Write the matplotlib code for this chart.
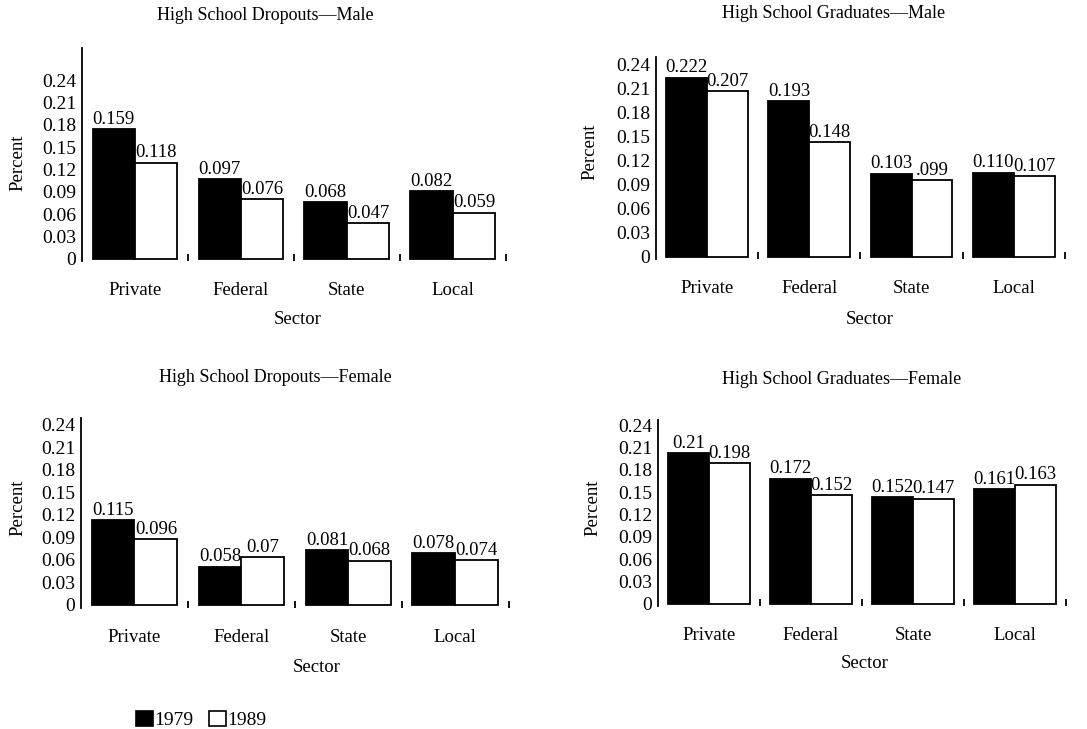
import numpy as np
import matplotlib
matplotlib.use('Agg')
import matplotlib.pyplot as plt
from matplotlib.patches import Patch

plt.rcParams['font.family'] = 'Liberation Serif'

W, H = 1087, 729

sectors = ['Private', 'Federal', 'State', 'Local']
years = ['1979', '1989']
y_ticks = [0, 0.03, 0.06, 0.09, 0.12, 0.15, 0.18, 0.21, 0.24]
y_tick_labels = ['0', '0.03', '0.06', '0.09', '0.12', '0.15', '0.18', '0.21', '0.24']

titles = ['High School Dropouts\u2014Male', 'High School Graduates\u2014Male',
          'High School Dropouts\u2014Female', 'High School Graduates\u2014Female']

# bar heights as printed (the bars do not sit exactly at their labels)
drop_m_79 = [0.174, 0.107, 0.076, 0.091]
drop_m_89 = [0.129, 0.080, 0.048, 0.062]
grad_m_79 = [0.224, 0.195, 0.104, 0.105]
grad_m_89 = [0.207, 0.143, 0.096, 0.101]
drop_f_79 = [0.113, 0.051, 0.073, 0.069]
drop_f_89 = [0.088, 0.064, 0.059, 0.060]
grad_f_79 = [0.202, 0.168, 0.143, 0.154]
grad_f_89 = [0.189, 0.146, 0.141, 0.160]

# value labels printed over the bars
drop_m_79_lbl = ['0.159', '0.097', '0.068', '0.082']
drop_m_89_lbl = ['0.118', '0.076', '0.047', '0.059']
grad_m_79_lbl = ['0.222', '0.193', '0.103', '0.110']
grad_m_89_lbl = ['0.207', '0.148', '.099', '0.107']
drop_f_79_lbl = ['0.115', '0.058', '0.081', '0.078']
drop_f_89_lbl = ['0.096', '0.07', '0.068', '0.074']
grad_f_79_lbl = ['0.21', '0.172', '0.152', '0.161']
grad_f_89_lbl = ['0.198', '0.152', '0.147', '0.163']

series = [(drop_m_79, drop_m_89, drop_m_79_lbl, drop_m_89_lbl),
          (grad_m_79, grad_m_89, grad_m_79_lbl, grad_m_89_lbl),
          (drop_f_79, drop_f_89, drop_f_79_lbl, drop_f_89_lbl),
          (grad_f_79, grad_f_89, grad_f_79_lbl, grad_f_89_lbl)]

# layout in pixels: axes (left, right, top, bottom), ylim, title, ylabel, xlabel centres
layout = [
    dict(box=(82, 511, 48, 261), ylim=(-0.003, 0.283), title=(265, 15), ylab=(18, 163), xlab=(298, 320)),
    dict(box=(656, 1070, 57, 259), ylim=(-0.003, 0.25), title=(834, 14), ylab=(590, 152), xlab=(870, 319)),
    dict(box=(81, 514, 418, 608), ylim=(-0.004, 0.249), title=(275, 378), ylab=(18, 508), xlab=(317, 668)),
    dict(box=(658, 1071, 420, 606), ylim=(-0.003, 0.247), title=(842, 379), ylab=(593, 508), xlab=(865, 664)),
]

fig = plt.figure(figsize=(W / 100, H / 100), dpi=100)

x = np.arange(len(sectors))
bw = 0.4

for i in range(4):
    lo = layout[i]
    l, r, t, b = lo['box']
    ax = fig.add_axes([l / W, 1 - b / H, (r - l) / W, (b - t) / H])
    v79, v89, l79, l89 = series[i]

    ax.bar(x + 0.1, v79, bw, align='edge', color='black', edgecolor='black', linewidth=1.3)
    ax.bar(x + 0.5, v89, bw, align='edge', color='white', edgecolor='black', linewidth=1.3)
    for j in range(len(sectors)):
        ax.annotate(l79[j], (x[j] + 0.3, v79[j]), xytext=(0, 1), textcoords='offset points',
                    ha='center', va='bottom', fontsize=13.5)
        ax.annotate(l89[j], (x[j] + 0.7, v89[j]), xytext=(0, 1), textcoords='offset points',
                    ha='center', va='bottom', fontsize=13.5)

    ax.set_xlim(0, 4.05)
    ax.set_ylim(*lo['ylim'])
    ax.set_yticks(y_ticks)
    ax.set_yticklabels(y_tick_labels)
    ax.tick_params(axis='y', length=0, pad=4, labelsize=14)
    ax.set_xticks(x + 0.5)
    ax.set_xticklabels(sectors)
    ax.set_xticks(x + 1, minor=True)
    ax.tick_params(axis='x', which='major', length=0, pad=15, labelsize=13.5)
    ax.tick_params(axis='x', which='minor', direction='in', length=5, width=1.3)

    for s in ['top', 'right', 'bottom']:
        ax.spines[s].set_visible(False)
    ax.spines['left'].set_linewidth(1.3)

    ax.set_xlabel('Sector', fontsize=13.5, va='center')
    ax.xaxis.set_label_coords(lo['xlab'][0] / W, 1 - lo['xlab'][1] / H, transform=fig.transFigure)
    ax.set_ylabel('Percent', fontsize=13.5, va='center')
    ax.yaxis.set_label_coords(lo['ylab'][0] / W, 1 - lo['ylab'][1] / H, transform=fig.transFigure)

    fig.text(lo['title'][0] / W, 1 - lo['title'][1] / H, titles[i],
             ha='center', va='center', fontsize=13)

handles = [Patch(facecolor='black', edgecolor='black', linewidth=1.2),
           Patch(facecolor='white', edgecolor='black', linewidth=1.2)]
fig.legend(handles, years, loc='center left', bbox_to_anchor=(136 / W, 1 - 720 / H),
           ncol=2, frameon=False, fontsize=14, handlelength=0.85, handleheight=0.85,
           handletextpad=0.1, columnspacing=0.8, borderpad=0, borderaxespad=0)

fig.savefig('out.png', dpi=100, facecolor='white')
